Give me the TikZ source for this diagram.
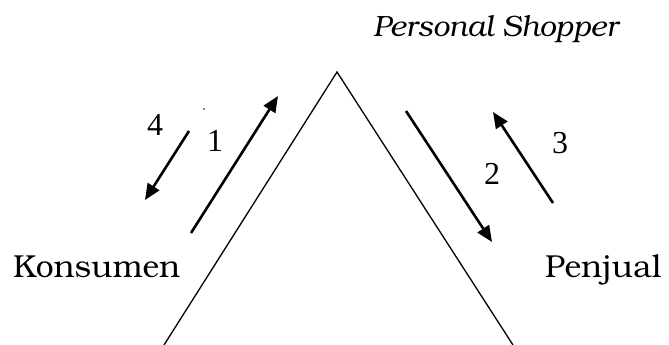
\documentclass[tikz,border=0pt]{standalone}
\usepackage{fontspec}
\setmainfont{TeX Gyre Bonum}
\newfontfamily\digitfont{Liberation Serif}
\usetikzlibrary{arrows.meta}
\tikzset{
  lbl/.style={inner sep=0pt, anchor=base west, font=\fontsize{31.8}{36}\selectfont},
  ital/.style={inner sep=0pt, anchor=base west, font=\itshape\fontsize{29.4}{36}\selectfont},
  num/.style={inner sep=0pt, anchor=base west, font=\digitfont\fontsize{32}{36}\selectfont},
  leg/.style={line width=1.3pt},
  flow/.style={line width=2.6pt, -{Triangle[length=16pt,width=13.5pt]}},
}
\begin{document}
\begin{tikzpicture}[x=1pt,y=-1pt]
\useasboundingbox (0,0) rectangle (669,345);
% triangle
\coordinate (apex) at (337,72);
\coordinate (bl) at (164,345);
\coordinate (br) at (513,345);
\draw[leg] (bl) -- (apex) -- (br);
% labels
\node[ital] (shop) at (373,37) {Personal Shopper};
\node[lbl] (kons) at (13,277) {Konsumen};
\node[lbl] (penj) at (545,277) {Penjual};
% numbers
\node[num] (n4) at (147,135) {4};
\node[num] (n1) at (207,151) {1};
\node[num] (n2) at (484,184) {2};
\node[num] (n3) at (552,153) {3};
% arrows
\coordinate (a1s) at (191,233); \coordinate (a1e) at (278,96);
\coordinate (a4s) at (189,131); \coordinate (a4e) at (145,200);
\coordinate (a2s) at (406,111); \coordinate (a2e) at (492,242);
\coordinate (a3s) at (553,203); \coordinate (a3e) at (493,112);
\draw[flow] (a1s) -- (a1e);
\draw[flow] (a4s) -- (a4e);
\draw[flow] (a2s) -- (a2e);
\draw[flow] (a3s) -- (a3e);
\fill (204,109) circle (0.8);
\end{tikzpicture}
\end{document}
